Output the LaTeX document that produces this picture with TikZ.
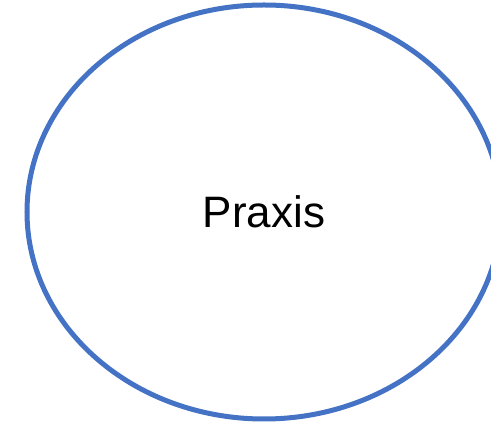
\documentclass[tikz,border=0pt]{standalone}
\usepackage{fontspec}
\setmainfont{Liberation Sans}
\usepackage{tikz}
\usetikzlibrary{shapes.geometric}
\definecolor{officeblue}{HTML}{4472C4}
\tikzset{
  praxisbubble/.style={ellipse, draw=officeblue, line width=5pt, inner sep=0pt,
                       minimum width=474pt, minimum height=414pt,
                       font=\fontsize{44}{52}\selectfont, text=black}
}
\begin{document}
\begin{tikzpicture}[x=1pt,y=-1pt]
  \useasboundingbox (0,0) rectangle (491,427);

  % Ellipse
  \node[praxisbubble] (praxis) at (264,212) {Praxis};
\end{tikzpicture}
\end{document}
